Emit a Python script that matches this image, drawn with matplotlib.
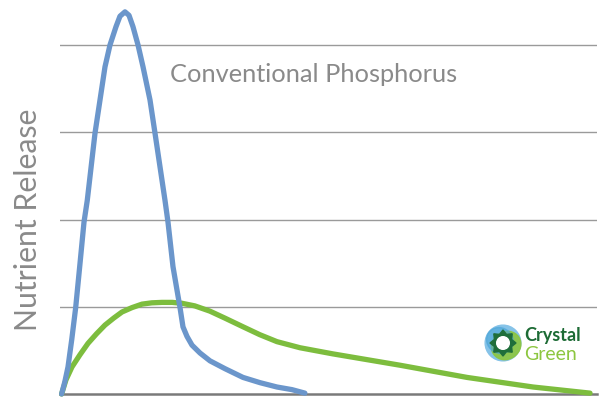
import matplotlib
matplotlib.use("Agg")
import matplotlib.pyplot as plt
from matplotlib.patches import Circle, Ellipse, Polygon
import numpy as np

# Data (arbitrary time units vs nutrient release)
conv_x = [0.3, 0.9, 1.49, 2.2, 2.92, 3.7, 4.47, 5.08, 6.52, 7.45, 8.38, 9.31, 10.43, 11.17, 12.10, 12.85, 13.59, 14.53, 15.46, 16.76, 17.69, 19.55, 20.11, 21.04, 21.79, 22.35, 22.9, 23.65, 24.58, 26.07, 27.93, 30.73, 34.08, 37.24, 40.41, 43.2, 45.6]
conv_y = [0.0, 0.14, 0.31, 0.63, 0.99, 1.48, 1.97, 2.22, 2.99, 3.37, 3.75, 4.0, 4.21, 4.33, 4.38, 4.34, 4.21, 4.0, 3.75, 3.37, 2.99, 2.22, 1.97, 1.46, 1.19, 0.99, 0.77, 0.66, 0.56, 0.47, 0.38, 0.29, 0.19, 0.13, 0.08, 0.05, 0.01]

cg_x = [0.3, 1.1, 2.23, 3.72, 5.21, 6.8, 8.38, 10.0, 11.55, 13.4, 15.27, 17.1, 19.0, 20.9, 22.7, 25.1, 27.9, 30.7, 34.1, 37.2, 40.4, 44.7, 50.8, 63.3, 75.8, 88.1, 98.7]
cg_y = [0.0, 0.16, 0.31, 0.45, 0.58, 0.69, 0.79, 0.87, 0.94, 0.99, 1.03, 1.045, 1.05, 1.05, 1.04, 1.01, 0.95, 0.87, 0.77, 0.68, 0.60, 0.53, 0.46, 0.33, 0.19, 0.08, 0.01]

grid_levels = [1, 2, 3, 4]
label_text = "Conventional Phosphorus"
ylabel_text = "Nutrient Release"

fig = plt.figure(figsize=(6.13, 4.0), dpi=100)
ax = fig.add_axes([60/613, 6/400, 537/613, 394/400])
ax.set_xlim(0, 100)
ax.set_ylim(0, 394/87.25)

for g in grid_levels:
    ax.axhline(g, color="#9a9a9a", lw=1.0, zorder=1)
ax.axhline(0, color="#7a7a7a", lw=1.8, zorder=1, clip_on=False)

ax.plot(cg_x, cg_y, color="#7dbd3e", lw=3.8, solid_capstyle="round", solid_joinstyle="round", zorder=3, clip_on=False)
ax.plot(conv_x, conv_y, color="#6b96cb", lw=3.8, solid_capstyle="round", solid_joinstyle="round", zorder=4, clip_on=False)

for s in ax.spines.values():
    s.set_visible(False)
ax.set_xticks([])
ax.set_yticks([])

fig.text(170/613, 1 - 75/400, label_text, color="#8a8a8a", fontsize=18.3, family="Lato", va="center", ha="left")
fig.text(28/613, 1 - 220/400, ylabel_text, color="#8a8a8a", fontsize=21.8, family="Lato", rotation=90, va="center", ha="center")

# Logo
lax = fig.add_axes([482/613, 1 - 364/400, 42/613, 42/400])
lax.set_xlim(-1, 1)
lax.set_ylim(-1, 1)
lax.set_aspect("equal")
lax.axis("off")
lax.add_patch(Circle((0, 0), 0.85, color="#86c3e8"))
lax.add_patch(Ellipse((0.15, -0.12), 1.45, 1.3, angle=35, color="#8cc63f", alpha=0.9))
lax.add_patch(Ellipse((-0.15, 0.12), 1.3, 1.2, angle=-35, color="#4aa5d8", alpha=0.6))
angs = np.linspace(0, 2*np.pi, 17)[:-1]
rad = [0.62 if i % 2 == 0 else 0.44 for i in range(16)]
star = [(r*np.cos(a), r*np.sin(a)) for r, a in zip(rad, angs)]
lax.add_patch(Polygon(star, closed=True, color="#1f6e3a"))
lax.add_patch(Circle((0, 0), 0.3, color="white"))

fig.text(524/613, 1 - 336/400, "Crystal", color="#1d6b35", fontsize=13.0, family="Lato", weight="bold", va="center", ha="left")
fig.text(524/613, 1 - 354/400, "Green", color="#8cc63f", fontsize=14.0, family="Lato", va="center", ha="left")
fig.text(572/613, 1 - 359/400, ".", color="#8cc63f", fontsize=4, family="Lato", va="center", ha="left")

fig.savefig("out.png", dpi=100)
